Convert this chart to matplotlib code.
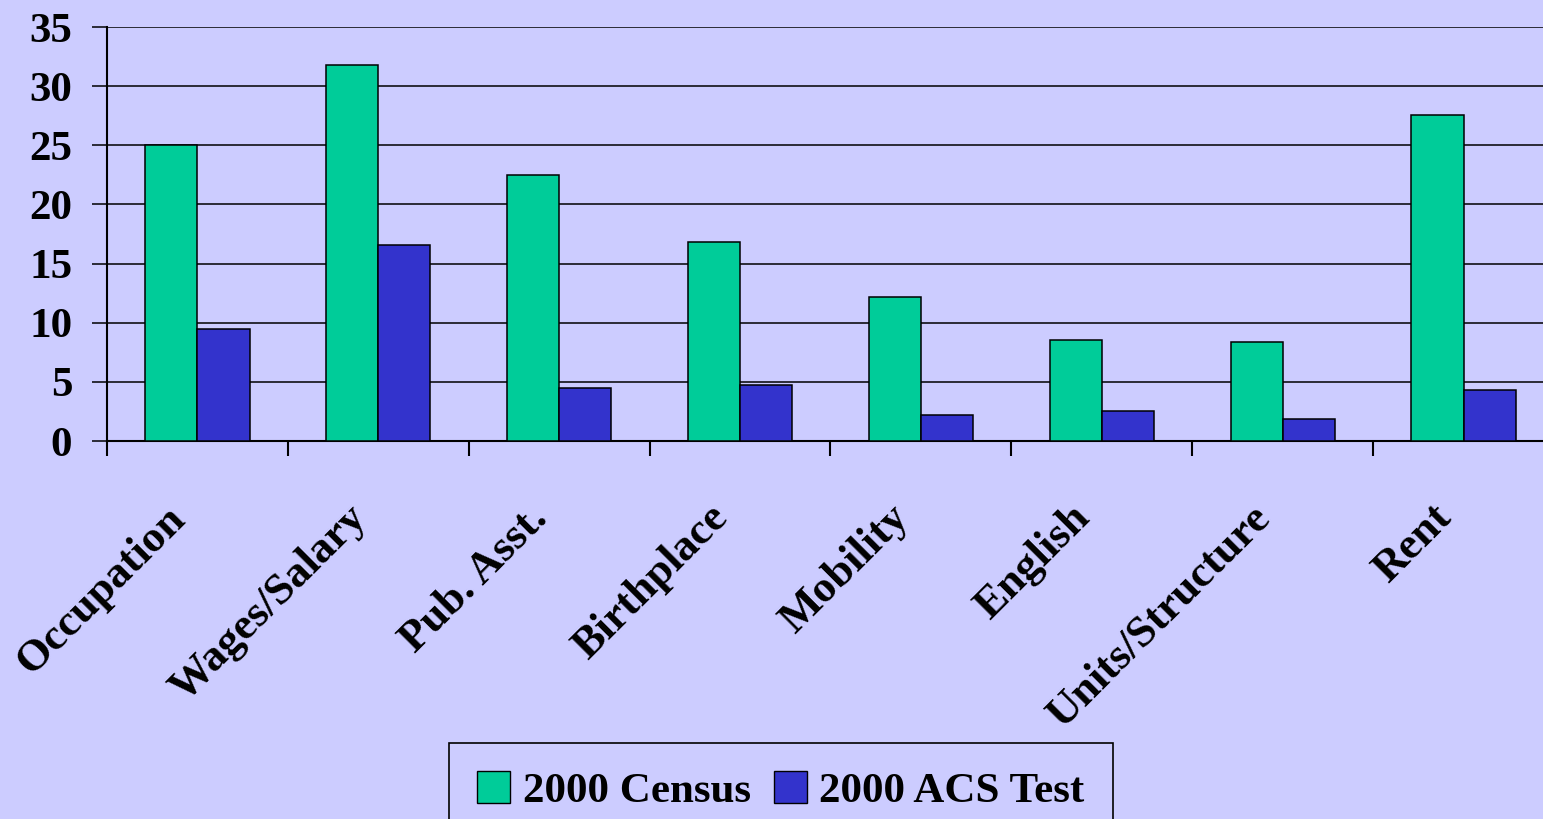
import numpy as np
import matplotlib

matplotlib.use("Agg")
import matplotlib.pyplot as plt
from matplotlib.patches import Patch

matplotlib.rcParams.update({
    "font.family": "serif",
    "font.serif": ["Liberation Serif", "DejaVu Serif"],
    "font.weight": "bold",
})

BG = "#CCCCFF"
CENSUS_COLOR = "#00CC99"
ACS_COLOR = "#3333CC"

categories = ["Occupation", "Wages/Salary", "Pub. Asst.", "Birthplace",
              "Mobility", "English", "Units/Structure", "Rent"]
census_2000 = [25.0, 31.8, 22.5, 16.8, 12.2, 8.5, 8.4, 27.6]
acs_test_2000 = [9.5, 16.6, 4.5, 4.7, 2.2, 2.5, 1.9, 4.3]
yticks = [0, 5, 10, 15, 20, 25, 30, 35]

W, H = 1543, 819
fig = plt.figure(figsize=(W / 100, H / 100), dpi=100, facecolor=BG)
# plot area runs slightly past the right edge of the image, as in the original
ax = fig.add_axes([107 / W, 1 - 441 / H, (1554 - 107) / W, (441 - 27) / H])
ax.set_facecolor(BG)

x = np.arange(len(categories))
bw = 0.288
ax.bar(x - bw / 2, census_2000, bw, color=CENSUS_COLOR, edgecolor="black",
       linewidth=1.1, zorder=3)
ax.bar(x + bw / 2, acs_test_2000, bw, color=ACS_COLOR, edgecolor="black",
       linewidth=1.1, zorder=3)

ax.set_xlim(-0.5, len(categories) - 0.5)
ax.set_ylim(0, 35)
ax.set_yticks(yticks)
ax.set_yticklabels([str(v) for v in yticks], fontsize=31)
ax.yaxis.grid(True, color="black", linewidth=1.1, zorder=0)
ax.set_axisbelow(True)

# category ticks sit between the groups
ax.set_xticks(np.arange(len(categories) + 1) - 0.5)
ax.set_xticklabels([])
ax.tick_params(axis="x", direction="out", length=10.5, width=1.5, color="black")
ax.tick_params(axis="y", direction="out", length=11, width=1.1, pad=14)

for s in ("top", "right"):
    ax.spines[s].set_visible(False)
ax.spines["left"].set_linewidth(1.5)
ax.spines["bottom"].set_linewidth(1.5)

for xi, name in zip(x, categories):
    ax.annotate(name, xy=(xi, 0), xycoords=("data", "axes fraction"),
                xytext=(-13, -51), textcoords="offset points",
                rotation=45, rotation_mode="anchor", ha="right", va="center",
                fontsize=32, fontweight="bold")

handles = [Patch(facecolor=CENSUS_COLOR, edgecolor="black", label="2000 Census"),
           Patch(facecolor=ACS_COLOR, edgecolor="black", label="2000 ACS Test")]
leg = fig.legend(handles=handles, loc="upper center", ncol=2,
                 bbox_to_anchor=(781 / W, 1 - 743 / H), fontsize=31,
                 frameon=True, fancybox=False, edgecolor="black",
                 facecolor=BG, handlelength=0.75, handleheight=0.75,
                 handletextpad=0.3, columnspacing=0.55, borderpad=0.65,
                 borderaxespad=0)
leg.get_frame().set_linewidth(1.2)
leg.get_frame().set_alpha(1)

fig.savefig("out.png", dpi=100, facecolor=BG)
